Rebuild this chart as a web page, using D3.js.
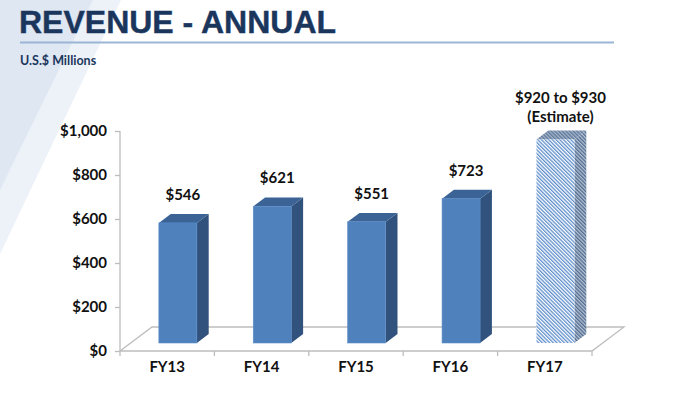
<!DOCTYPE html>
<html><head><meta charset="utf-8">
<script src="https://cdn.jsdelivr.net/npm/d3@7/dist/d3.min.js"></script>
<style>body{margin:0;background:#fff}svg{display:block}</style>
</head><body>
<svg id="c" width="700" height="397"></svg>
<script>
const categories = ["FY13","FY14","FY15","FY16","FY17"];
// bar heights as drawn in the picture (U.S.$ millions)
const values = [546, 621, 551, 656, 925];
const valueLabels = [["$546"],["$621"],["$551"],["$723"],["$920 to $930","(Estimate)"]];
const estimate = [false,false,false,false,true];
const yTicks = [0,200,400,600,800,1000];

const svg = d3.select("#c");

// background diagonal shapes
svg.append("polygon").attr("points","0,0 121,0 0,254").attr("fill","#edf2f9");
svg.append("polygon").attr("points","0,0 93,0 0,190").attr("fill","#dfe7f2");

// title
svg.append("text").attr("x",19).attr("y",33)
  .attr("font-family","Liberation Sans, Arial, sans-serif").attr("font-weight","bold")
  .attr("font-size",32).attr("fill","#1b365d").attr("stroke","#1b365d").attr("stroke-width",0.4)
  .text("REVENUE - ANNUAL");
svg.append("line").attr("x1",20).attr("x2",614).attr("y1",42.5).attr("y2",42.5)
  .attr("stroke","#9bb5d6").attr("stroke-width",2);
svg.append("text").attr("x",20).attr("y",65)
  .attr("font-family","Lato, sans-serif").attr("font-weight","bold")
  .attr("font-size",12.5).attr("fill","#1b365d").text("U.S.$ Millions");

// scales
const x = d3.scaleBand().domain(categories).range([120,592]);
const y = d3.scaleLinear().domain([0,1000]).range([351,131]);
const D = {x:32, y:-24};           // floor depth
const off = {x:D.x/3, y:D.y/3};     // bar front offset
const bd = {x:D.x*0.37, y:D.y*0.37};// bar depth
const barW = 38;

// patterns
const defs = svg.append("defs");
function hatch(id, bg, fg){
  const p = defs.append("pattern").attr("id",id).attr("patternUnits","userSpaceOnUse")
    .attr("width",2.6).attr("height",2.6).attr("patternTransform","rotate(-45)");
  p.append("rect").attr("width",2.6).attr("height",2.6).attr("fill",bg);
  p.append("rect").attr("width",1.3).attr("height",2.6).attr("fill",fg);
}
hatch("hFront","#ffffff","#5f8fcc");
hatch("hSide","#b7c3d3","#4f6a8f");
hatch("hTop","#a6b6cc","#5d7799");

// floor
const gray = "#bdbdbd";
const x0 = x.range()[0], x1 = x.range()[1], yb = y(0);
svg.append("polygon")
  .attr("points",[[x0,yb],[x0+D.x,yb+D.y],[x1+D.x,yb+D.y],[x1,yb]].map(p=>p.join(",")).join(" "))
  .attr("fill","#fff").attr("stroke",gray).attr("stroke-width",1.3);

// y axis
svg.append("line").attr("x1",x0).attr("x2",x0).attr("y1",y(1000)).attr("y2",yb)
  .attr("stroke",gray).attr("stroke-width",1.3);
const yAxis = d3.axisLeft(y).tickValues(yTicks).tickSize(5).tickPadding(8)
  .tickFormat(d=>"$"+d3.format(",")(d));
const ya = svg.append("g").attr("transform",`translate(${x0},0)`).call(yAxis);
ya.select(".domain").remove();
ya.selectAll(".tick line").attr("stroke",gray).attr("stroke-width",1.3);
ya.selectAll(".tick text").attr("font-family","Lato, sans-serif").attr("font-weight","bold")
  .attr("font-size",15).attr("fill","#111");

// x axis ticks at category boundaries
const bounds = categories.map(c=>x(c)).concat([x1]);
svg.selectAll(".xt").data(bounds).enter().append("line")
  .attr("x1",d=>d).attr("x2",d=>d).attr("y1",yb).attr("y2",yb+5)
  .attr("stroke",gray).attr("stroke-width",1.3);
svg.selectAll(".xl").data(categories).enter().append("text")
  .attr("x",d=>x(d)+x.bandwidth()/2).attr("y",yb+21)
  .attr("text-anchor","middle").attr("font-family","Lato, sans-serif").attr("font-weight","bold")
  .attr("font-size",15).attr("fill","#111").text(d=>d);

// bars
const bars = svg.selectAll(".bar").data(categories.map((c,i)=>({c,v:values[i],est:estimate[i],lab:valueLabels[i]})))
  .enter().append("g");
bars.each(function(d){
  const g = d3.select(this);
  const fx = x(d.c) + (x.bandwidth()-barW)/2 + off.x;
  const fb = yb + off.y;
  const ft = fb - (yb - y(d.v));
  const front = d.est ? "url(#hFront)" : "#4f81bd";
  const side = d.est ? "url(#hSide)" : "#30527d";
  const top = d.est ? "url(#hTop)" : "#3b6396";
  const pts = a=>a.map(p=>p.join(",")).join(" ");
  g.append("polygon").attr("points",pts([[fx+barW,ft],[fx+barW+bd.x,ft+bd.y],[fx+barW+bd.x,fb+bd.y],[fx+barW,fb]]))
    .attr("fill",side);
  g.append("polygon").attr("points",pts([[fx,ft],[fx+bd.x,ft+bd.y],[fx+barW+bd.x,ft+bd.y],[fx+barW,ft]]))
    .attr("fill",top);
  g.append("rect").attr("x",fx).attr("y",ft).attr("width",barW).attr("height",fb-ft)
    .attr("fill",front).attr("stroke",d.est?"none":"#5a8cc8").attr("stroke-width",0.6);
  const cx = fx + barW/2 + 5;
  const n = d.lab.length;
  const gap = d.est ? 18 : 23;
  d.lab.forEach((t,k)=>{
    g.append("text").attr("x",cx).attr("y",ft - gap - (n-1-k)*19)
      .attr("text-anchor","middle").attr("font-family","Lato, sans-serif").attr("font-weight","bold")
      .attr("font-size",15).attr("fill","#111").text(t);
  });
});
</script>
</body></html>
